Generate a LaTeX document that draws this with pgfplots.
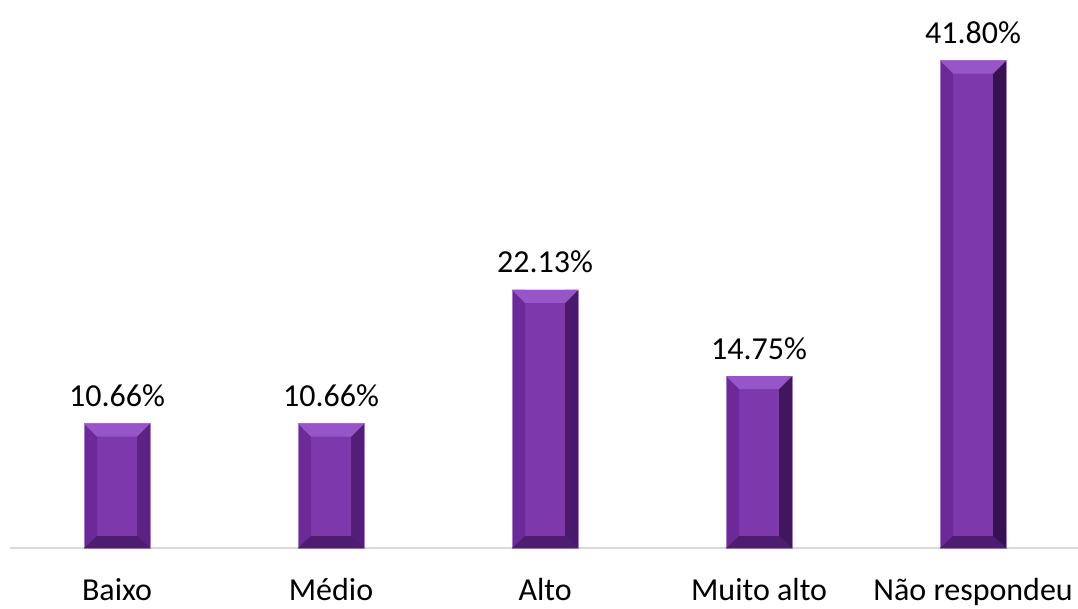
\documentclass[border=0pt]{standalone}
\usepackage{pgfplots}
\pgfplotsset{compat=1.18}
\usepackage{fontspec}
\setmainfont{Carlito}

\definecolor{barmid}{RGB}{125,56,172}
\definecolor{barleft}{RGB}{108,42,152}
\definecolor{barrightA}{RGB}{92,34,132}
\definecolor{barrightB}{RGB}{55,18,82}
\definecolor{bartop}{RGB}{150,86,200}
\definecolor{barbot}{RGB}{78,28,112}
\definecolor{barline}{RGB}{170,120,210}
\definecolor{axisgray}{RGB}{217,217,217}

% bevel pieces, sizes in pt (1px = 0.75pt)
\pgfdeclareplotmark{bevtop}{%
  \pgfpathmoveto{\pgfpoint{-24.75pt}{0pt}}%
  \pgfpathlineto{\pgfpoint{24.75pt}{0pt}}%
  \pgfpathlineto{\pgfpoint{15pt}{-9.75pt}}%
  \pgfpathlineto{\pgfpoint{-15pt}{-9.75pt}}%
  \pgfpathclose\pgfusepathqfill}
\pgfdeclareplotmark{bevbot}{%
  \pgfpathmoveto{\pgfpoint{-24.75pt}{0pt}}%
  \pgfpathlineto{\pgfpoint{24.75pt}{0pt}}%
  \pgfpathlineto{\pgfpoint{15pt}{9pt}}%
  \pgfpathlineto{\pgfpoint{-15pt}{9pt}}%
  \pgfpathclose\pgfusepathqfill}

\pgfplotstableread{
x y
0 10.66
1 10.66
2 22.13
3 14.75
4 41.80
}\resp

\begin{document}
\begin{tikzpicture}
\begin{axis}[
    name=ax,
    scale only axis,
    width=801pt, height=411pt,
    xmin=-0.5, xmax=4.49,
    ymin=0, ymax=47,
    axis x line=bottom,
    axis y line=none,
    x axis line style={draw=axisgray, line width=1.2pt, -},
    xtick={0,...,4},
    xticklabels={Baixo,Médio,Alto,Muito alto,Não respondeu},
    major tick length=0pt,
    xticklabel style={anchor=base, yshift=-39pt, font=\fontsize{24}{28}\selectfont},
    clip=false,
]
% main bar with value labels
\addplot[ybar, bar width=49.5pt, bar shift=0pt, fill=barmid, draw=none,
    nodes near coords={\pgfmathprintnumber[fixed,fixed zerofill,precision=2,assume math mode=true]{\pgfplotspointmeta}\%},
    nodes near coords style={anchor=base, yshift=12.75pt, font=\fontsize{24}{28}\selectfont, text=black}]
    table[x=x, y=y] {\resp};
% left bevel
\addplot[ybar, bar width=9.75pt, bar shift=-19.875pt, fill=barleft, draw=none]
    table[x=x, y=y] {\resp};
% right bevel
\addplot[ybar, bar width=9.75pt, bar shift=19.875pt, draw=none,
    left color=barrightA, right color=barrightB]
    table[x=x, y=y] {\resp};
% top bevel
\addplot[only marks, mark=bevtop, mark options={fill=bartop, draw=none}]
    table[x=x, y=y] {\resp};
% bottom bevel
\addplot[only marks, mark=bevbot, mark options={fill=barbot, draw=none}]
    coordinates {(0,0)(1,0)(2,0)(3,0)(4,0)};
% outline
\addplot[ybar, bar width=49.5pt, bar shift=0pt, fill=none, draw=barline, line width=0.5pt]
    table[x=x, y=y] {\resp};
\end{axis}
\pgfresetboundingbox
\path ([xshift=-7.5pt,yshift=-45pt]ax.south west) rectangle (ax.north east);
\end{tikzpicture}
\end{document}
